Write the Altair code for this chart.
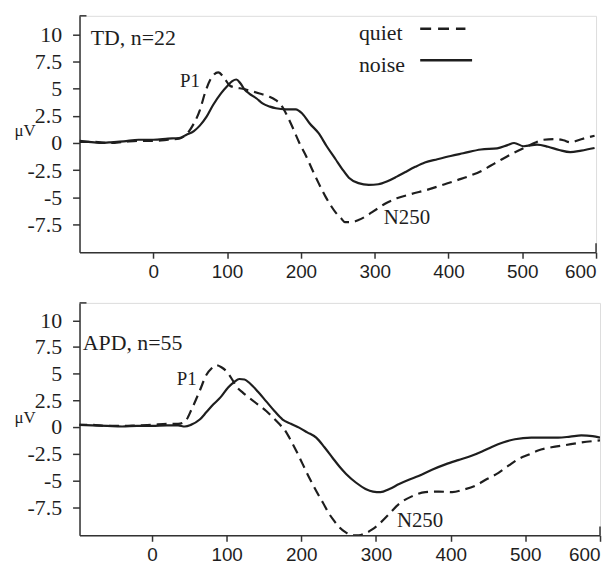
import altair as alt
import pandas as pd

# ---------------- data ----------------
# TD, n=22 : quiet (dashed) and noise (solid) ERP waveforms, time in ms, amplitude in µV
td_quiet_t = [-100, -80, -60, -40, -20, 0, 20, 35, 45, 55, 63, 70, 77, 88, 96, 103.5, 112, 121, 132, 144,
              156, 166, 173, 180, 189, 198, 207, 215, 224, 233, 240, 247, 254, 260, 268, 278, 287, 296, 305,
              314, 330, 350, 372, 395, 413, 430, 444, 457, 470, 484, 495, 507, 518, 529, 547, 556, 565, 580, 598]
td_quiet_v = [0.1, 0.1, 0.0, 0.1, 0.2, 0.2, 0.3, 0.4, 0.8, 1.8, 3.0, 4.6, 5.8, 6.5, 6.0, 5.3, 5.1, 5.0, 4.8, 4.56,
              4.3, 3.95, 3.5, 2.7, 1.4, 0.0, -1.2, -2.4, -3.7, -4.9, -5.7, -6.4, -6.9, -7.3, -7.3, -7.1, -6.8, -6.4, -6.0,
              -5.6, -5.1, -4.7, -4.3, -3.8, -3.4, -3.0, -2.6, -2.1, -1.6, -1.07, -0.7, -0.3, 0.05, 0.3, 0.36, 0.25, 0.06, 0.35, 0.67]

td_noise_t = [-100, -80, -70, -60, -40, -20, 0, 20, 35, 45, 55, 63, 72, 81, 92, 101, 107, 112.5, 118, 124, 130,
              140, 148, 158, 166, 180, 193, 202, 212, 224, 235, 247, 256, 265, 278, 292, 305, 318, 330, 341, 355,
              368, 385, 403, 420, 444, 466, 480, 489, 502, 520, 535, 550, 565, 580, 598]
td_noise_v = [0.2, 0.05, 0.0, 0.05, 0.15, 0.3, 0.3, 0.4, 0.46, 0.76, 1.1, 1.6, 2.4, 3.5, 4.6, 5.3, 5.7, 5.85, 5.5, 4.9, 4.56,
              4.1, 3.65, 3.35, 3.2, 3.1, 3.1, 2.7, 1.8, 0.9, -0.3, -1.5, -2.4, -3.2, -3.7, -3.86, -3.8, -3.5, -3.1, -2.7, -2.2,
              -1.8, -1.5, -1.2, -0.95, -0.6, -0.5, -0.2, 0.0, -0.3, -0.15, -0.35, -0.65, -0.85, -0.7, -0.46]

# APD, n=55
apd_quiet_t = [-100, -80, -60, -40, -20, 0, 20, 35, 44, 54, 64, 73, 80, 86, 93, 100, 107, 113, 122, 131, 142, 153,
               162, 171, 178, 184, 193, 202, 211, 220, 229, 237, 244, 251, 260, 268, 277, 286, 295, 304, 317, 331,
               348, 366, 384, 402, 418, 433, 448, 464, 478, 491, 504, 517, 535, 553, 575, 600]
apd_quiet_v = [0.2, 0.2, 0.1, 0.1, 0.15, 0.2, 0.3, 0.3, 0.5, 1.8, 3.4, 4.9, 5.5, 5.8, 5.6, 5.2, 4.5, 3.8, 3.2, 2.7, 2.1, 1.5,
               0.9, 0.25, -0.3, -1.0, -2.2, -3.5, -4.8, -6.0, -7.1, -8.1, -8.8, -9.4, -9.9, -10.15, -10.15, -9.95, -9.6, -9.1, -8.2, -7.2,
               -6.5, -6.1, -6.05, -6.1, -5.85, -5.5, -4.9, -4.3, -3.6, -3.0, -2.6, -2.2, -1.9, -1.7, -1.45, -1.25]

apd_noise_t = [-100, -80, -60, -40, -20, 0, 20, 35, 44, 52, 64, 73, 82, 92, 102, 110, 117, 124, 131, 142, 153, 164,
               175, 186, 197, 208, 220, 231, 242, 251, 260, 273, 286, 296, 306, 318, 331, 344, 357, 375, 393, 410,
               428, 442, 455, 470, 486, 508, 525, 544, 560, 575, 590, 600]
apd_noise_v = [0.2, 0.15, 0.1, 0.05, 0.1, 0.1, 0.15, 0.15, 0.05, 0.2, 0.7, 1.4, 2.1, 2.8, 3.7, 4.2, 4.5, 4.45, 4.1, 3.3, 2.4, 1.5,
               0.7, 0.3, -0.06, -0.5, -1.0, -1.9, -2.9, -3.7, -4.4, -5.2, -5.8, -6.05, -6.1, -5.8, -5.35, -4.95, -4.6, -4.0, -3.5, -3.1,
               -2.7, -2.3, -1.87, -1.45, -1.15, -1.0, -1.0, -1.0, -0.9, -0.78, -0.85, -1.0]

# axis ticks
x_ticks = [0, 100, 200, 300, 400, 500, 600]
y_ticks = [-7.5, -5, -2.5, 0, 2.5, 5, 7.5, 10]

# annotations (label, time, amplitude)
td_title = ["TD, n=22"]; td_title_t = [-84.8]; td_title_v = [9.07]
td_p1 = ["P1"]; td_p1_t = [36.3]; td_p1_v = [5.19]
td_n250 = ["N250"]; td_n250_t = [312.3]; td_n250_v = [-7.48]
apd_title = ["APD, n=55"]; apd_title_t = [-92.7]; apd_title_v = [7.26]
apd_p1 = ["P1"]; apd_p1_t = [33.3]; apd_p1_v = [3.98]
apd_n250 = ["N250"]; apd_n250_t = [328.0]; apd_n250_v = [-9.38]

# legend (top panel)
legend_labels = ["quiet", "noise"]
legend_text_t = [278.6, 278.6]
legend_text_v = [9.46, 6.57]
legend_line_t = [361.7, 361.7]
legend_line_t2 = [423.0, 432.0]
legend_line_v = [10.53, 7.63]

INK = "#1e1e1e"
SERIF = "Liberation Serif"
SANS = "Liberation Sans"
DASH = [10, 6]


def panel(qt, qv, nt, nv, xdom, ydom, w, h, title, p1, n250, legend=False):
    xaxis = alt.Axis(values=x_ticks, title=None, grid=False, labelFont=SANS, labelFontSize=19,
                     tickSize=6, labelPadding=4)
    yaxis = alt.Axis(values=y_ticks, title="μV", labelExpr="datum.value + ''", grid=False,
                     labelFont=SERIF, labelFontSize=22, tickSize=7, labelPadding=11)
    X = alt.X("t:Q", scale=alt.Scale(domain=xdom, nice=False, zero=False), axis=xaxis)
    Y = alt.Y("v:Q", scale=alt.Scale(domain=ydom, nice=False, zero=False), axis=yaxis)

    dq = pd.DataFrame({"t": qt, "v": qv})
    dn = pd.DataFrame({"t": nt, "v": nv})
    quiet = alt.Chart(dq).mark_line(color=INK, strokeWidth=2.2, strokeDash=DASH,
                                    interpolate="monotone", clip=True).encode(x=X, y=Y)
    noise = alt.Chart(dn).mark_line(color=INK, strokeWidth=2.2,
                                    interpolate="monotone", clip=True).encode(x=X, y=Y)

    def txt(lbls, ts, vs, size):
        d = pd.DataFrame({"label": lbls, "t": ts, "v": vs})
        return alt.Chart(d).mark_text(font=SERIF, fontSize=size, color=INK, align="left",
                                      baseline="alphabetic").encode(x=X, y=Y, text="label:N")

    layers = [quiet, noise, txt(*title, 22), txt(*p1, 19), txt(*n250, 21)]

    # axis end decorations: long tick at 600 and cap at the y-axis top
    end_tick = alt.Chart(pd.DataFrame({"t": [600]})).mark_rule(color="#333", strokeWidth=1.5).encode(
        x=X, y=alt.value(h - 9), y2=alt.value(h))
    cap = alt.Chart(pd.DataFrame({"t": [0]})).mark_rule(color="#333", strokeWidth=1.5).encode(
        x=alt.value(0), x2=alt.value(7), y=alt.value(0))
    layers += [end_tick, cap]

    if legend:
        dl = pd.DataFrame({"label": legend_labels, "t": legend_text_t, "v": legend_text_v})
        layers.append(alt.Chart(dl).mark_text(font=SERIF, fontSize=22, color=INK, align="left",
                                              baseline="alphabetic").encode(x=X, y=Y, text="label:N"))
        dr = pd.DataFrame({"t": legend_line_t, "t2": legend_line_t2, "v": legend_line_v,
                           "s": legend_labels})
        layers.append(alt.Chart(dr[dr.s == "quiet"]).mark_rule(color=INK, strokeWidth=2.4,
                                                             strokeDash=[11, 7]).encode(
            x=X, x2="t2:Q", y=Y))
        layers.append(alt.Chart(dr[dr.s == "noise"]).mark_rule(color=INK, strokeWidth=2.4).encode(
            x=X, x2="t2:Q", y=Y))

    return alt.layer(*layers).properties(width=w, height=h)


top = panel(td_quiet_t, td_quiet_v, td_noise_t, td_noise_v, [-100, 600], [-10.07, 11.72], 520, 238,
            (td_title, td_title_t, td_title_v), (td_p1, td_p1_t, td_p1_v),
            (td_n250, td_n250_t, td_n250_v), legend=True)
bottom = panel(apd_quiet_t, apd_quiet_v, apd_noise_t, apd_noise_v, [-97, 600], [-10.15, 11.63], 524, 234,
               (apd_title, apd_title_t, apd_title_v), (apd_p1, apd_p1_t, apd_p1_v),
               (apd_n250, apd_n250_t, apd_n250_v))

chart = alt.vconcat(top, bottom, spacing=51, bounds="flush").properties(
    padding={"left": 5, "top": 4, "right": 0, "bottom": 0}
).configure_view(strokeWidth=0).configure(background="white").configure_axis(
    tickColor="#333", domainColor="#333", domainWidth=1.5, tickWidth=1.5, labelColor=INK
).configure_axisY(
    titleAngle=0, titleX=-66, titleY=120, titleAlign="left", titleBaseline="alphabetic",
    titleFont=SERIF, titleFontSize=17, titleFontWeight="normal", titleColor=INK
)

chart.save("out.html", embed_options={"renderer": "svg", "actions": False})
